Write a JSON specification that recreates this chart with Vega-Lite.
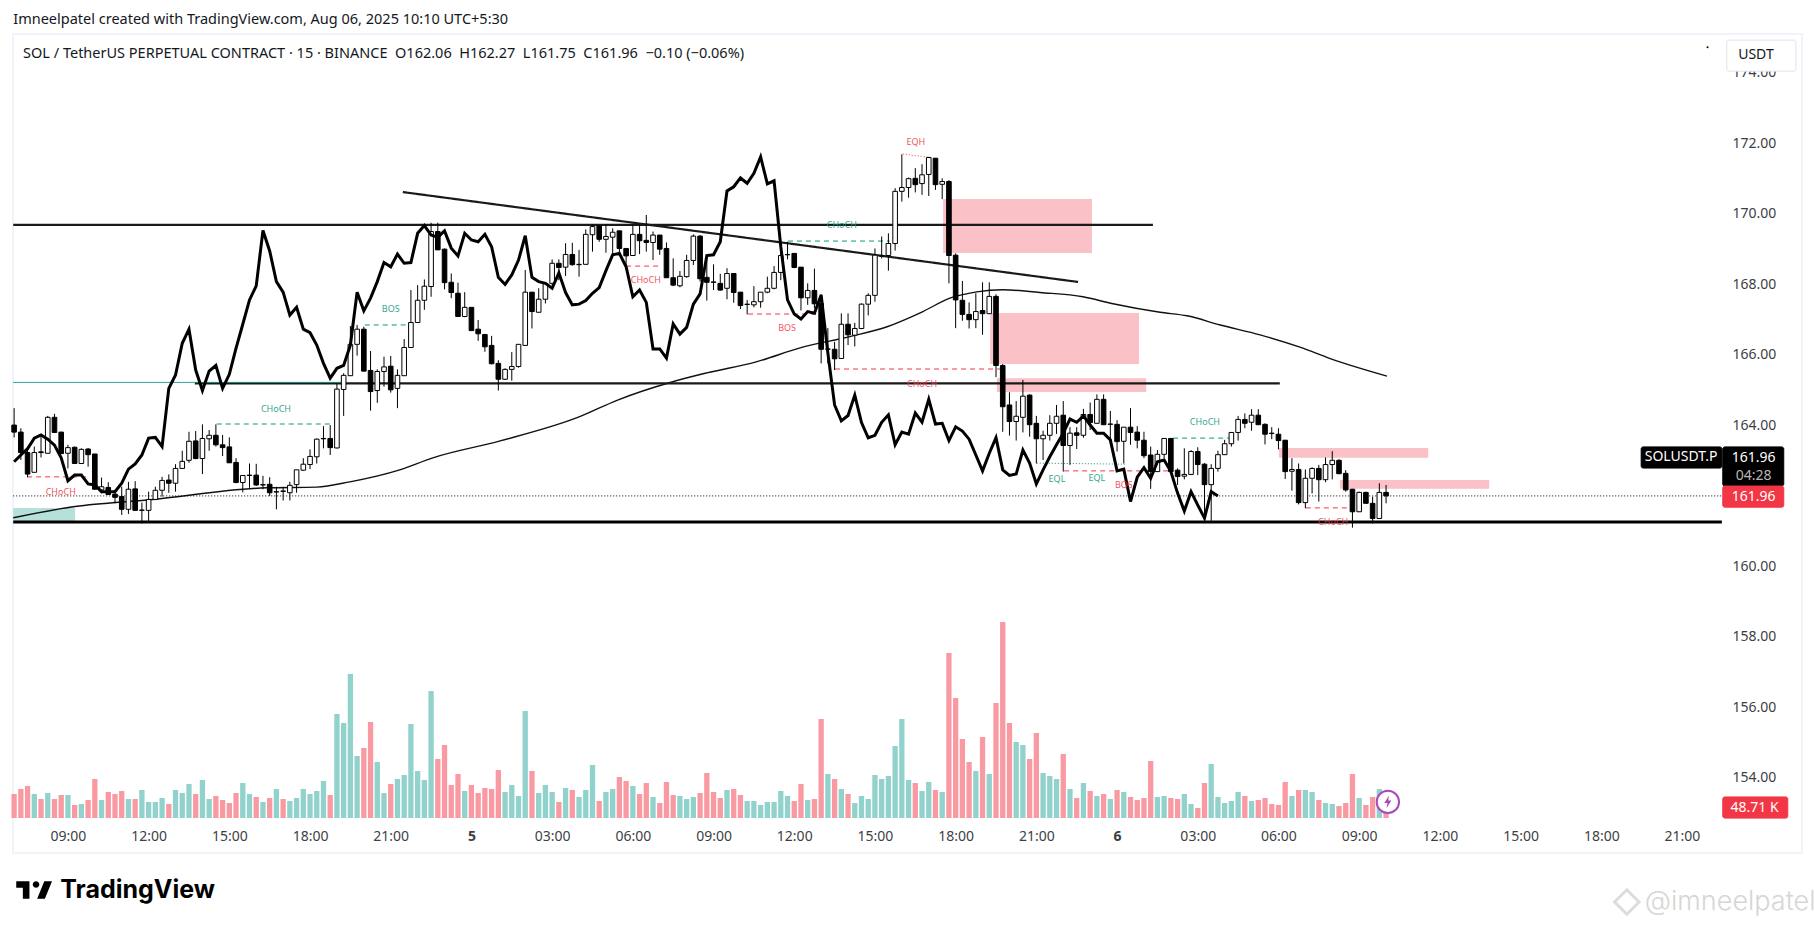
{
"$schema":"https://vega.github.io/schema/vega-lite/v6.json",
"width":1789,"height":819,
"autosize":{"type":"none"},
"padding":{"left":13,"top":34,"right":13,"bottom":75},
"background":"#ffffff",
"view":{"stroke":"#f0f3fa","strokeWidth":2},
"config":{"font":"Noto Sans"},
"datasets":{
"bars":[
{"t":"2025-08-04T07:00Z","o":163.97,"h":164.45,"l":163.62,"c":163.77,"v":116.9,"s":162.93},
{"t":"2025-08-04T07:15Z","o":163.77,"h":163.88,"l":162.98,"c":163.19,"v":141.3,"s":163.12},
{"t":"2025-08-04T07:30Z","o":163.19,"h":163.36,"l":162.49,"c":162.58,"v":155.9,"s":163.30},
{"t":"2025-08-04T07:45Z","o":162.63,"h":163.36,"l":162.63,"c":163.19,"v":116.9,"s":163.60},
{"t":"2025-08-04T08:00Z","o":163.21,"h":163.66,"l":163.05,"c":163.19,"v":92.5,"s":163.69},
{"t":"2025-08-04T08:15Z","o":163.17,"h":164.23,"l":163.17,"c":164.19,"v":121.8,"s":163.57},
{"t":"2025-08-04T08:30Z","o":164.19,"h":164.29,"l":163.76,"c":163.76,"v":92.5,"s":163.40},
{"t":"2025-08-04T08:45Z","o":163.77,"h":163.78,"l":163.15,"c":163.16,"v":112.0,"s":163.04},
{"t":"2025-08-04T09:00Z","o":163.17,"h":163.41,"l":162.74,"c":163.33,"v":112.0,"s":162.39},
{"t":"2025-08-04T09:15Z","o":163.34,"h":163.36,"l":162.87,"c":162.88,"v":63.3,"s":162.55},
{"t":"2025-08-04T09:30Z","o":162.88,"h":163.31,"l":162.87,"c":163.28,"v":68.2,"s":162.55},
{"t":"2025-08-04T09:45Z","o":163.29,"h":163.32,"l":162.79,"c":163.13,"v":87.7,"s":162.30},
{"t":"2025-08-04T10:00Z","o":163.15,"h":163.15,"l":162.15,"c":162.15,"v":190.0,"s":162.27},
{"t":"2025-08-04T10:15Z","o":162.13,"h":162.48,"l":162.03,"c":162.22,"v":87.7,"s":162.08},
{"t":"2025-08-04T10:30Z","o":162.20,"h":162.35,"l":161.99,"c":162.00,"v":126.6,"s":162.08},
{"t":"2025-08-04T10:45Z","o":162.01,"h":162.13,"l":161.75,"c":161.92,"v":116.9,"s":162.08},
{"t":"2025-08-04T11:00Z","o":161.94,"h":162.22,"l":161.42,"c":161.58,"v":131.5,"s":162.32},
{"t":"2025-08-04T11:15Z","o":161.58,"h":162.36,"l":161.45,"c":162.15,"v":92.5,"s":162.72},
{"t":"2025-08-04T11:30Z","o":162.16,"h":162.38,"l":161.54,"c":161.55,"v":92.5,"s":162.87},
{"t":"2025-08-04T11:45Z","o":161.55,"h":161.77,"l":161.18,"c":161.56,"v":136.4,"s":163.12},
{"t":"2025-08-04T12:00Z","o":161.55,"h":162.08,"l":161.23,"c":161.86,"v":77.9,"s":163.60},
{"t":"2025-08-04T12:15Z","o":161.86,"h":162.22,"l":161.84,"c":162.12,"v":77.9,"s":163.62},
{"t":"2025-08-04T12:30Z","o":162.12,"h":162.50,"l":161.94,"c":162.40,"v":97.4,"s":163.36},
{"t":"2025-08-04T12:45Z","o":162.41,"h":162.57,"l":162.05,"c":162.32,"v":68.2,"s":165.01},
{"t":"2025-08-04T13:00Z","o":162.32,"h":162.86,"l":162.08,"c":162.74,"v":136.4,"s":165.39},
{"t":"2025-08-04T13:15Z","o":162.74,"h":163.24,"l":162.74,"c":162.94,"v":121.8,"s":166.29},
{"t":"2025-08-04T13:30Z","o":162.97,"h":163.78,"l":162.90,"c":163.51,"v":165.6,"s":166.69},
{"t":"2025-08-04T13:45Z","o":163.52,"h":163.80,"l":163.00,"c":163.02,"v":116.9,"s":165.53},
{"t":"2025-08-04T14:00Z","o":163.02,"h":163.99,"l":162.58,"c":163.59,"v":185.1,"s":164.95},
{"t":"2025-08-04T14:15Z","o":163.58,"h":163.83,"l":163.24,"c":163.68,"v":92.5,"s":165.50},
{"t":"2025-08-04T14:30Z","o":163.68,"h":163.99,"l":163.36,"c":163.41,"v":107.2,"s":165.66},
{"t":"2025-08-04T14:45Z","o":163.41,"h":163.69,"l":163.09,"c":163.33,"v":87.7,"s":165.01},
{"t":"2025-08-04T15:00Z","o":163.35,"h":163.62,"l":162.90,"c":162.90,"v":73.1,"s":165.41},
{"t":"2025-08-04T15:15Z","o":162.91,"h":163.03,"l":162.32,"c":162.34,"v":121.8,"s":166.15},
{"t":"2025-08-04T15:30Z","o":162.34,"h":162.55,"l":162.06,"c":162.54,"v":170.5,"s":166.83},
{"t":"2025-08-04T15:45Z","o":162.54,"h":162.88,"l":162.19,"c":162.55,"v":116.9,"s":167.52},
{"t":"2025-08-04T16:00Z","o":162.55,"h":162.87,"l":162.24,"c":162.27,"v":102.3,"s":167.92},
{"t":"2025-08-04T16:15Z","o":162.27,"h":162.53,"l":162.15,"c":162.28,"v":77.9,"s":169.49},
{"t":"2025-08-04T16:30Z","o":162.29,"h":162.49,"l":161.96,"c":162.05,"v":97.4,"s":168.91},
{"t":"2025-08-04T16:45Z","o":162.07,"h":162.22,"l":161.58,"c":162.08,"v":141.3,"s":168.04},
{"t":"2025-08-04T17:00Z","o":162.10,"h":162.22,"l":161.83,"c":162.09,"v":92.5,"s":167.74},
{"t":"2025-08-04T17:15Z","o":162.05,"h":162.36,"l":161.83,"c":162.26,"v":82.8,"s":167.09},
{"t":"2025-08-04T17:30Z","o":162.28,"h":162.70,"l":162.05,"c":162.70,"v":97.4,"s":167.31},
{"t":"2025-08-04T17:45Z","o":162.69,"h":163.03,"l":162.68,"c":162.86,"v":141.3,"s":166.69},
{"t":"2025-08-04T18:00Z","o":162.85,"h":163.28,"l":162.72,"c":163.08,"v":116.9,"s":166.59},
{"t":"2025-08-04T18:15Z","o":163.07,"h":163.59,"l":162.88,"c":163.57,"v":131.5,"s":166.24},
{"t":"2025-08-04T18:30Z","o":163.58,"h":163.94,"l":163.31,"c":163.59,"v":180.2,"s":165.72},
{"t":"2025-08-04T18:45Z","o":163.59,"h":163.97,"l":163.12,"c":163.33,"v":112.0,"s":165.30},
{"t":"2025-08-04T19:00Z","o":163.32,"h":165.14,"l":163.31,"c":164.99,"v":506.6,"s":165.58},
{"t":"2025-08-04T19:15Z","o":164.98,"h":165.44,"l":164.23,"c":165.38,"v":462.8,"s":165.66},
{"t":"2025-08-04T19:30Z","o":165.37,"h":166.78,"l":165.37,"c":166.26,"v":701.4,"s":166.24},
{"t":"2025-08-04T19:45Z","o":166.26,"h":166.81,"l":165.94,"c":166.69,"v":302.0,"s":167.74},
{"t":"2025-08-04T20:00Z","o":166.69,"h":166.76,"l":165.49,"c":165.50,"v":341.0,"s":167.21},
{"t":"2025-08-04T20:15Z","o":165.52,"h":166.07,"l":164.38,"c":164.92,"v":467.6,"s":167.57},
{"t":"2025-08-04T20:30Z","o":164.95,"h":165.55,"l":164.60,"c":165.49,"v":272.8,"s":168.04},
{"t":"2025-08-04T20:45Z","o":165.49,"h":165.91,"l":165.06,"c":165.62,"v":121.8,"s":168.58},
{"t":"2025-08-04T21:00Z","o":165.64,"h":165.93,"l":164.89,"c":164.97,"v":165.6,"s":168.46},
{"t":"2025-08-04T21:15Z","o":165.01,"h":165.55,"l":164.45,"c":165.38,"v":190.0,"s":168.82},
{"t":"2025-08-04T21:30Z","o":165.37,"h":166.41,"l":165.37,"c":166.17,"v":209.5,"s":168.56},
{"t":"2025-08-04T21:45Z","o":166.17,"h":167.80,"l":166.17,"c":166.88,"v":457.9,"s":168.58},
{"t":"2025-08-04T22:00Z","o":166.88,"h":167.94,"l":166.88,"c":167.51,"v":228.9,"s":169.41},
{"t":"2025-08-04T22:15Z","o":167.51,"h":168.10,"l":167.24,"c":167.91,"v":185.1,"s":169.63},
{"t":"2025-08-04T22:30Z","o":167.90,"h":169.71,"l":167.61,"c":169.46,"v":618.6,"s":169.36},
{"t":"2025-08-04T22:45Z","o":169.46,"h":169.71,"l":168.94,"c":168.94,"v":287.4,"s":169.30},
{"t":"2025-08-04T23:00Z","o":168.96,"h":168.98,"l":167.82,"c":168.01,"v":355.6,"s":169.48},
{"t":"2025-08-04T23:15Z","o":168.02,"h":168.27,"l":167.57,"c":167.73,"v":160.7,"s":168.99},
{"t":"2025-08-04T23:30Z","o":167.71,"h":168.01,"l":167.05,"c":167.05,"v":214.3,"s":168.77},
{"t":"2025-08-04T23:45Z","o":167.05,"h":167.74,"l":167.03,"c":167.31,"v":131.5,"s":169.41},
{"t":"2025-08-05T00:00Z","o":167.31,"h":167.31,"l":166.65,"c":166.65,"v":160.7,"s":169.22},
{"t":"2025-08-05T00:15Z","o":166.69,"h":166.95,"l":166.36,"c":166.56,"v":121.8,"s":169.17},
{"t":"2025-08-05T00:30Z","o":166.54,"h":166.55,"l":166.05,"c":166.19,"v":146.1,"s":169.38},
{"t":"2025-08-05T00:45Z","o":166.23,"h":166.50,"l":165.69,"c":165.71,"v":141.3,"s":169.03},
{"t":"2025-08-05T01:00Z","o":165.72,"h":165.81,"l":164.95,"c":165.27,"v":233.8,"s":168.16},
{"t":"2025-08-05T01:15Z","o":165.27,"h":165.58,"l":165.25,"c":165.55,"v":126.6,"s":167.96},
{"t":"2025-08-05T01:30Z","o":165.55,"h":166.04,"l":165.23,"c":165.63,"v":160.7,"s":168.23},
{"t":"2025-08-05T01:45Z","o":165.63,"h":166.26,"l":165.60,"c":166.26,"v":107.2,"s":168.65},
{"t":"2025-08-05T02:00Z","o":166.23,"h":168.37,"l":166.23,"c":167.74,"v":521.2,"s":169.34},
{"t":"2025-08-05T02:15Z","o":167.74,"h":167.74,"l":166.71,"c":167.19,"v":228.9,"s":168.16},
{"t":"2025-08-05T02:30Z","o":167.17,"h":167.85,"l":167.17,"c":167.54,"v":121.8,"s":168.04},
{"t":"2025-08-05T02:45Z","o":167.54,"h":167.99,"l":167.42,"c":167.99,"v":160.7,"s":167.99},
{"t":"2025-08-05T03:00Z","o":167.99,"h":168.67,"l":167.94,"c":168.56,"v":126.6,"s":167.85},
{"t":"2025-08-05T03:15Z","o":168.56,"h":168.67,"l":168.08,"c":168.44,"v":77.9,"s":168.29},
{"t":"2025-08-05T03:30Z","o":168.45,"h":169.13,"l":168.20,"c":168.81,"v":146.1,"s":167.73},
{"t":"2025-08-05T03:45Z","o":168.81,"h":169.14,"l":168.49,"c":168.52,"v":136.4,"s":167.38},
{"t":"2025-08-05T04:00Z","o":168.52,"h":168.94,"l":168.18,"c":168.53,"v":102.3,"s":167.40},
{"t":"2025-08-05T04:15Z","o":168.53,"h":169.52,"l":168.53,"c":169.38,"v":136.4,"s":167.50},
{"t":"2025-08-05T04:30Z","o":169.37,"h":169.66,"l":168.89,"c":169.60,"v":258.2,"s":167.71},
{"t":"2025-08-05T04:45Z","o":169.62,"h":169.62,"l":169.17,"c":169.24,"v":82.8,"s":167.87},
{"t":"2025-08-05T05:00Z","o":169.24,"h":169.67,"l":168.86,"c":169.32,"v":126.6,"s":168.35},
{"t":"2025-08-05T05:15Z","o":169.30,"h":169.55,"l":168.82,"c":169.44,"v":141.3,"s":168.80},
{"t":"2025-08-05T05:30Z","o":169.48,"h":169.48,"l":168.80,"c":168.98,"v":199.7,"s":168.84},
{"t":"2025-08-05T05:45Z","o":168.98,"h":168.98,"l":168.51,"c":168.77,"v":180.2,"s":168.46},
{"t":"2025-08-05T06:00Z","o":168.78,"h":169.65,"l":168.78,"c":169.38,"v":155.9,"s":167.61},
{"t":"2025-08-05T06:15Z","o":169.38,"h":169.66,"l":168.82,"c":169.20,"v":116.9,"s":167.80},
{"t":"2025-08-05T06:30Z","o":169.21,"h":169.93,"l":168.89,"c":169.15,"v":170.5,"s":167.45},
{"t":"2025-08-05T06:45Z","o":169.15,"h":169.46,"l":168.65,"c":169.36,"v":102.3,"s":166.13},
{"t":"2025-08-05T07:00Z","o":169.36,"h":169.36,"l":168.80,"c":168.96,"v":73.1,"s":166.13},
{"t":"2025-08-05T07:15Z","o":168.98,"h":169.15,"l":168.15,"c":168.15,"v":175.4,"s":165.87},
{"t":"2025-08-05T07:30Z","o":168.15,"h":168.70,"l":167.91,"c":167.94,"v":112.0,"s":166.84},
{"t":"2025-08-05T07:45Z","o":167.92,"h":168.34,"l":167.88,"c":168.19,"v":107.2,"s":166.55},
{"t":"2025-08-05T08:00Z","o":168.18,"h":168.80,"l":168.15,"c":168.64,"v":92.5,"s":166.74},
{"t":"2025-08-05T08:15Z","o":168.64,"h":169.38,"l":168.51,"c":169.33,"v":102.3,"s":167.40},
{"t":"2025-08-05T08:30Z","o":169.33,"h":169.36,"l":168.04,"c":168.12,"v":121.8,"s":167.69},
{"t":"2025-08-05T08:45Z","o":168.16,"h":168.80,"l":167.50,"c":168.02,"v":219.2,"s":168.78},
{"t":"2025-08-05T09:00Z","o":168.03,"h":168.53,"l":167.80,"c":168.02,"v":126.6,"s":168.80},
{"t":"2025-08-05T09:15Z","o":167.99,"h":168.26,"l":167.78,"c":167.80,"v":97.4,"s":169.17},
{"t":"2025-08-05T09:30Z","o":167.85,"h":168.42,"l":167.54,"c":168.27,"v":136.4,"s":170.61},
{"t":"2025-08-05T09:45Z","o":168.27,"h":168.27,"l":167.44,"c":167.73,"v":141.3,"s":170.73},
{"t":"2025-08-05T10:00Z","o":167.74,"h":167.74,"l":167.26,"c":167.36,"v":112.0,"s":170.98},
{"t":"2025-08-05T10:15Z","o":167.39,"h":167.52,"l":167.11,"c":167.40,"v":82.8,"s":170.83},
{"t":"2025-08-05T10:30Z","o":167.38,"h":167.91,"l":167.31,"c":167.47,"v":82.8,"s":171.11},
{"t":"2025-08-05T10:45Z","o":167.47,"h":167.74,"l":167.30,"c":167.74,"v":63.3,"s":171.58},
{"t":"2025-08-05T11:00Z","o":167.74,"h":168.18,"l":167.71,"c":167.85,"v":77.9,"s":170.81},
{"t":"2025-08-05T11:15Z","o":167.85,"h":168.48,"l":167.82,"c":168.30,"v":77.9,"s":170.90},
{"t":"2025-08-05T11:30Z","o":168.30,"h":169.03,"l":168.08,"c":168.78,"v":131.5,"s":169.03},
{"t":"2025-08-05T11:45Z","o":168.80,"h":169.17,"l":168.67,"c":168.81,"v":107.2,"s":167.52},
{"t":"2025-08-05T12:00Z","o":168.84,"h":168.84,"l":168.42,"c":168.44,"v":82.8,"s":167.12},
{"t":"2025-08-05T12:15Z","o":168.45,"h":168.45,"l":167.22,"c":167.58,"v":165.6,"s":166.98},
{"t":"2025-08-05T12:30Z","o":167.58,"h":167.99,"l":167.38,"c":167.79,"v":87.7,"s":167.19},
{"t":"2025-08-05T12:45Z","o":167.79,"h":168.41,"l":167.28,"c":167.41,"v":92.5,"s":167.14},
{"t":"2025-08-05T13:00Z","o":167.42,"h":167.68,"l":165.72,"c":166.12,"v":482.2,"s":167.66},
{"t":"2025-08-05T13:15Z","o":166.12,"h":166.72,"l":165.72,"c":166.13,"v":214.3,"s":166.01},
{"t":"2025-08-05T13:30Z","o":166.12,"h":166.33,"l":165.53,"c":165.85,"v":190.0,"s":164.54},
{"t":"2025-08-05T13:45Z","o":165.86,"h":167.14,"l":165.86,"c":166.83,"v":141.3,"s":164.09},
{"t":"2025-08-05T14:00Z","o":166.83,"h":167.14,"l":166.24,"c":166.53,"v":116.9,"s":164.24},
{"t":"2025-08-05T14:15Z","o":166.52,"h":166.87,"l":166.20,"c":166.71,"v":73.1,"s":164.82},
{"t":"2025-08-05T14:30Z","o":166.71,"h":167.42,"l":166.69,"c":167.40,"v":107.2,"s":164.04},
{"t":"2025-08-05T14:45Z","o":167.40,"h":167.71,"l":167.08,"c":167.65,"v":92.5,"s":163.61},
{"t":"2025-08-05T15:00Z","o":167.65,"h":168.98,"l":167.47,"c":168.79,"v":209.5,"s":163.68},
{"t":"2025-08-05T15:15Z","o":168.76,"h":169.32,"l":168.70,"c":168.77,"v":190.0,"s":164.05},
{"t":"2025-08-05T15:30Z","o":168.78,"h":169.41,"l":168.35,"c":169.12,"v":204.6,"s":164.26},
{"t":"2025-08-05T15:45Z","o":169.12,"h":170.69,"l":168.92,"c":170.60,"v":350.7,"s":163.41},
{"t":"2025-08-05T16:00Z","o":170.60,"h":171.65,"l":170.31,"c":170.71,"v":482.2,"s":163.77},
{"t":"2025-08-05T16:15Z","o":170.71,"h":170.99,"l":170.42,"c":170.96,"v":185.1,"s":163.71},
{"t":"2025-08-05T16:30Z","o":170.97,"h":171.26,"l":170.57,"c":170.79,"v":170.5,"s":164.31},
{"t":"2025-08-05T16:45Z","o":170.82,"h":171.37,"l":170.50,"c":171.07,"v":131.5,"s":164.05},
{"t":"2025-08-05T17:00Z","o":171.08,"h":171.58,"l":170.47,"c":171.56,"v":175.4,"s":164.70},
{"t":"2025-08-05T17:15Z","o":171.54,"h":171.54,"l":170.64,"c":170.79,"v":136.4,"s":164.00},
{"t":"2025-08-05T17:30Z","o":170.80,"h":170.97,"l":170.38,"c":170.88,"v":126.6,"s":164.02},
{"t":"2025-08-05T17:45Z","o":170.88,"h":170.92,"l":167.99,"c":168.78,"v":803.7,"s":163.53},
{"t":"2025-08-05T18:00Z","o":168.79,"h":168.84,"l":166.72,"c":167.52,"v":584.5,"s":163.92},
{"t":"2025-08-05T18:15Z","o":167.51,"h":168.06,"l":166.93,"c":167.11,"v":384.8,"s":163.80},
{"t":"2025-08-05T18:30Z","o":167.11,"h":167.45,"l":166.71,"c":166.96,"v":272.8,"s":163.57},
{"t":"2025-08-05T18:45Z","o":166.96,"h":167.71,"l":166.72,"c":167.19,"v":228.9,"s":163.12},
{"t":"2025-08-05T19:00Z","o":167.22,"h":168.02,"l":166.53,"c":167.13,"v":394.6,"s":162.67},
{"t":"2025-08-05T19:15Z","o":167.13,"h":168.02,"l":167.13,"c":167.62,"v":214.3,"s":163.17},
{"t":"2025-08-05T19:30Z","o":167.62,"h":167.68,"l":165.33,"c":165.66,"v":560.2,"s":163.61},
{"t":"2025-08-05T19:45Z","o":165.66,"h":165.70,"l":163.78,"c":164.49,"v":954.7,"s":162.70},
{"t":"2025-08-05T20:00Z","o":164.54,"h":164.90,"l":163.67,"c":164.07,"v":462.8,"s":162.54},
{"t":"2025-08-05T20:15Z","o":164.07,"h":164.65,"l":163.53,"c":164.22,"v":370.2,"s":162.58},
{"t":"2025-08-05T20:30Z","o":164.19,"h":165.25,"l":163.76,"c":164.79,"v":355.6,"s":163.26},
{"t":"2025-08-05T20:45Z","o":164.82,"h":164.84,"l":163.64,"c":163.98,"v":287.4,"s":162.89},
{"t":"2025-08-05T21:00Z","o":164.02,"h":164.23,"l":162.88,"c":163.58,"v":414.0,"s":162.30},
{"t":"2025-08-05T21:15Z","o":163.58,"h":163.81,"l":162.98,"c":163.68,"v":219.2,"s":162.70},
{"t":"2025-08-05T21:30Z","o":163.68,"h":164.25,"l":163.53,"c":164.02,"v":204.6,"s":163.07},
{"t":"2025-08-05T21:45Z","o":164.02,"h":164.54,"l":163.72,"c":164.22,"v":190.0,"s":163.41},
{"t":"2025-08-05T22:00Z","o":164.25,"h":164.65,"l":162.65,"c":163.39,"v":311.8,"s":163.74},
{"t":"2025-08-05T22:15Z","o":163.39,"h":163.91,"l":162.84,"c":163.74,"v":141.3,"s":164.14},
{"t":"2025-08-05T22:30Z","o":163.75,"h":163.91,"l":163.29,"c":163.68,"v":97.4,"s":164.05},
{"t":"2025-08-05T22:45Z","o":163.68,"h":164.43,"l":163.61,"c":164.27,"v":170.5,"s":164.23},
{"t":"2025-08-05T23:00Z","o":164.27,"h":164.61,"l":163.83,"c":164.04,"v":131.5,"s":163.97},
{"t":"2025-08-05T23:15Z","o":164.02,"h":164.84,"l":164.02,"c":164.70,"v":107.2,"s":163.74},
{"t":"2025-08-05T23:30Z","o":164.70,"h":164.84,"l":163.98,"c":163.98,"v":116.9,"s":163.74},
{"t":"2025-08-05T23:45Z","o":163.99,"h":164.37,"l":163.50,"c":164.00,"v":92.5,"s":163.55},
{"t":"2025-08-06T00:00Z","o":163.99,"h":164.11,"l":163.22,"c":163.50,"v":136.4,"s":162.67},
{"t":"2025-08-06T00:15Z","o":163.51,"h":163.91,"l":162.88,"c":163.91,"v":126.6,"s":162.72},
{"t":"2025-08-06T00:30Z","o":163.91,"h":164.45,"l":163.41,"c":163.76,"v":102.3,"s":161.80},
{"t":"2025-08-06T00:45Z","o":163.77,"h":163.94,"l":163.31,"c":163.54,"v":87.7,"s":162.49},
{"t":"2025-08-06T01:00Z","o":163.54,"h":163.78,"l":163.03,"c":163.10,"v":97.4,"s":162.76},
{"t":"2025-08-06T01:15Z","o":163.12,"h":163.36,"l":162.16,"c":162.65,"v":277.6,"s":162.46},
{"t":"2025-08-06T01:30Z","o":162.65,"h":163.26,"l":162.65,"c":163.14,"v":102.3,"s":162.93},
{"t":"2025-08-06T01:45Z","o":163.14,"h":163.59,"l":163.03,"c":163.59,"v":107.2,"s":162.98},
{"t":"2025-08-06T02:00Z","o":163.59,"h":163.59,"l":162.65,"c":162.65,"v":97.4,"s":162.65},
{"t":"2025-08-06T02:15Z","o":162.69,"h":162.74,"l":162.27,"c":162.51,"v":92.5,"s":162.04},
{"t":"2025-08-06T02:30Z","o":162.52,"h":163.31,"l":162.43,"c":162.57,"v":116.9,"s":161.53},
{"t":"2025-08-06T02:45Z","o":162.57,"h":163.26,"l":162.55,"c":163.22,"v":68.2,"s":162.08},
{"t":"2025-08-06T03:00Z","o":163.22,"h":163.34,"l":162.55,"c":162.85,"v":48.7,"s":161.70},
{"t":"2025-08-06T03:15Z","o":162.86,"h":162.89,"l":161.32,"c":162.28,"v":170.5,"s":161.33},
{"t":"2025-08-06T03:30Z","o":162.28,"h":162.86,"l":161.25,"c":162.74,"v":263.0,"s":162.08},
{"t":"2025-08-06T03:45Z","o":162.74,"h":163.24,"l":162.65,"c":163.13,"v":102.3,"s":161.96},
{"t":"2025-08-06T04:00Z","o":163.13,"h":163.55,"l":163.12,"c":163.44,"v":73.1},
{"t":"2025-08-06T04:15Z","o":163.44,"h":163.76,"l":163.36,"c":163.76,"v":82.8},
{"t":"2025-08-06T04:30Z","o":163.76,"h":164.23,"l":163.53,"c":164.13,"v":126.6},
{"t":"2025-08-06T04:45Z","o":164.13,"h":164.30,"l":163.88,"c":164.02,"v":107.2},
{"t":"2025-08-06T05:00Z","o":164.05,"h":164.42,"l":163.81,"c":164.25,"v":82.8},
{"t":"2025-08-06T05:15Z","o":164.25,"h":164.42,"l":163.97,"c":163.98,"v":87.7},
{"t":"2025-08-06T05:30Z","o":163.99,"h":164.02,"l":163.42,"c":163.71,"v":97.4},
{"t":"2025-08-06T05:45Z","o":163.74,"h":163.91,"l":163.57,"c":163.73,"v":68.2},
{"t":"2025-08-06T06:00Z","o":163.71,"h":163.88,"l":163.28,"c":163.53,"v":63.3},
{"t":"2025-08-06T06:15Z","o":163.54,"h":163.55,"l":162.44,"c":162.65,"v":175.4},
{"t":"2025-08-06T06:30Z","o":162.66,"h":163.03,"l":162.11,"c":162.71,"v":107.2},
{"t":"2025-08-06T06:45Z","o":162.71,"h":162.88,"l":161.72,"c":161.77,"v":136.4},
{"t":"2025-08-06T07:00Z","o":161.77,"h":162.71,"l":161.61,"c":162.46,"v":136.4},
{"t":"2025-08-06T07:15Z","o":162.46,"h":162.77,"l":162.03,"c":162.74,"v":126.6},
{"t":"2025-08-06T07:30Z","o":162.74,"h":162.84,"l":161.80,"c":162.42,"v":87.7},
{"t":"2025-08-06T07:45Z","o":162.42,"h":163.05,"l":162.35,"c":162.85,"v":73.1},
{"t":"2025-08-06T08:00Z","o":162.85,"h":163.23,"l":162.43,"c":162.97,"v":68.2},
{"t":"2025-08-06T08:15Z","o":162.97,"h":163.00,"l":162.58,"c":162.59,"v":58.5},
{"t":"2025-08-06T08:30Z","o":162.60,"h":162.69,"l":162.08,"c":162.13,"v":73.1},
{"t":"2025-08-06T08:45Z","o":162.15,"h":162.16,"l":161.06,"c":161.51,"v":214.3},
{"t":"2025-08-06T09:00Z","o":161.51,"h":162.08,"l":161.51,"c":162.06,"v":97.4},
{"t":"2025-08-06T09:15Z","o":162.06,"h":162.08,"l":161.75,"c":161.75,"v":63.3},
{"t":"2025-08-06T09:30Z","o":161.75,"h":161.94,"l":161.18,"c":161.32,"v":102.3},
{"t":"2025-08-06T09:45Z","o":161.32,"h":162.32,"l":161.32,"c":162.06,"v":141.3},
{"t":"2025-08-06T10:00Z","o":162.06,"h":162.27,"l":161.75,"c":161.96,"v":48.71}
],
"ma":[
{"t":"2025-08-04T06:58Z","p":161.34},{"t":"2025-08-04T09:16Z","p":161.66},{"t":"2025-08-04T12:03Z","p":161.85},{"t":"2025-08-04T16:24Z","p":162.19},{"t":"2025-08-04T18:15Z","p":162.21},{"t":"2025-08-04T19:29Z","p":162.36},{"t":"2025-08-04T21:20Z","p":162.70},{"t":"2025-08-04T22:34Z","p":163.04},{"t":"2025-08-05T01:04Z","p":163.52},{"t":"2025-08-05T04:00Z","p":164.20},{"t":"2025-08-05T05:26Z","p":164.68},{"t":"2025-08-05T07:29Z","p":165.20},{"t":"2025-08-05T08:45Z","p":165.45},{"t":"2025-08-05T10:37Z","p":165.77},{"t":"2025-08-05T12:13Z","p":166.16},{"t":"2025-08-05T14:04Z","p":166.48},{"t":"2025-08-05T15:27Z","p":166.76},{"t":"2025-08-05T16:47Z","p":167.19},{"t":"2025-08-05T17:47Z","p":167.57},{"t":"2025-08-05T18:47Z","p":167.75},{"t":"2025-08-05T19:45Z","p":167.81},{"t":"2025-08-05T21:08Z","p":167.73},{"t":"2025-08-05T22:44Z","p":167.61},{"t":"2025-08-05T23:51Z","p":167.41},{"t":"2025-08-06T01:36Z","p":167.17},{"t":"2025-08-06T02:36Z","p":167.07},{"t":"2025-08-06T03:50Z","p":166.81},{"t":"2025-08-06T05:19Z","p":166.53},{"t":"2025-08-06T06:48Z","p":166.18},{"t":"2025-08-06T07:57Z","p":165.85},{"t":"2025-08-06T10:02Z","p":165.36}
],
"zones":[
{"t":"2025-08-05T17:32Z","t2":"2025-08-05T23:04Z","p":170.38,"p2":168.85,"k":"supply"},
{"t":"2025-08-05T19:17Z","t2":"2025-08-06T00:49Z","p":167.15,"p2":165.70,"k":"supply"},
{"t":"2025-08-05T19:32Z","t2":"2025-08-06T01:05Z","p":165.30,"p2":164.91,"k":"supply"},
{"t":"2025-08-06T06:01Z","t2":"2025-08-06T11:34Z","p":163.32,"p2":163.04,"k":"supply"},
{"t":"2025-08-06T08:17Z","t2":"2025-08-06T13:50Z","p":162.41,"p2":162.16,"k":"supply"},
{"t":"2025-08-04T06:58Z","t2":"2025-08-04T09:16Z","p":161.62,"p2":161.24,"k":"demand"}
],
"segments":[
{"t":"2025-08-04T06:58Z","t2":"2025-08-06T01:20Z","p":169.65,"p2":169.65,"k":"level"},
{"t":"2025-08-04T13:43Z","t2":"2025-08-06T06:03Z","p":165.15,"p2":165.15,"k":"level"},
{"t":"2025-08-04T21:27Z","t2":"2025-08-05T22:33Z","p":170.58,"p2":168.03,"k":"level"},
{"t":"2025-08-04T06:58Z","t2":"2025-08-06T22:29Z","p":161.22,"p2":161.22,"k":"base"},
{"t":"2025-08-04T06:58Z","t2":"2025-08-04T19:13Z","p":165.18,"p2":165.18,"k":"teal"},
{"t":"2025-08-04T06:58Z","t2":"2025-08-06T22:29Z","p":161.96,"p2":161.96,"k":"last"},
{"t":"2025-08-04T07:29Z","t2":"2025-08-04T09:45Z","p":162.50,"p2":162.50,"k":"reddash"},
{"t":"2025-08-04T14:32Z","t2":"2025-08-04T18:51Z","p":164.00,"p2":164.00,"k":"tealdash"},
{"t":"2025-08-04T20:02Z","t2":"2025-08-04T21:42Z","p":166.81,"p2":166.81,"k":"tealdash"},
{"t":"2025-08-05T05:45Z","t2":"2025-08-05T07:05Z","p":168.48,"p2":168.48,"k":"reddash"},
{"t":"2025-08-05T11:46Z","t2":"2025-08-05T15:33Z","p":169.19,"p2":169.19,"k":"tealdash"},
{"t":"2025-08-05T10:17Z","t2":"2025-08-05T12:57Z","p":167.12,"p2":167.12,"k":"reddash"},
{"t":"2025-08-05T13:31Z","t2":"2025-08-05T19:39Z","p":165.56,"p2":165.56,"k":"reddash"},
{"t":"2025-08-06T02:05Z","t2":"2025-08-06T04:12Z","p":163.60,"p2":163.60,"k":"tealdash"},
{"t":"2025-08-05T22:02Z","t2":"2025-08-06T02:05Z","p":162.67,"p2":162.67,"k":"reddash"},
{"t":"2025-08-06T07:01Z","t2":"2025-08-06T08:44Z","p":161.62,"p2":161.62,"k":"reddash"},
{"t":"2025-08-05T21:01Z","t2":"2025-08-06T00:20Z","p":162.89,"p2":162.86,"k":"tealdot"},
{"t":"2025-08-05T16:02Z","t2":"2025-08-05T16:58Z","p":171.66,"p2":171.57,"k":"reddot"}
],
"notes":[
{"t":"2025-08-04T08:44Z","p":162.07,"text":"CHoCH","k":"red"},
{"t":"2025-08-04T16:44Z","p":164.43,"text":"CHoCH","k":"teal"},
{"t":"2025-08-04T21:00Z","p":167.26,"text":"BOS","k":"teal"},
{"t":"2025-08-05T06:29Z","p":168.09,"text":"CHoCH","k":"red"},
{"t":"2025-08-05T11:44Z","p":166.72,"text":"BOS","k":"red"},
{"t":"2025-08-05T13:46Z","p":169.65,"text":"CHoCH","k":"teal"},
{"t":"2025-08-05T16:31Z","p":172.0,"text":"EQH","k":"red"},
{"t":"2025-08-05T16:45Z","p":165.13,"text":"CHoCH","k":"red"},
{"t":"2025-08-06T03:16Z","p":164.06,"text":"CHoCH","k":"teal"},
{"t":"2025-08-05T21:46Z","p":162.44,"text":"EQL","k":"teal"},
{"t":"2025-08-05T23:15Z","p":162.47,"text":"EQL","k":"teal"},
{"t":"2025-08-06T00:15Z","p":162.27,"text":"BOS","k":"red"},
{"t":"2025-08-06T08:02Z","p":161.22,"text":"CHoCH","k":"red"}
],
"boxes":[
{"t":"2025-08-06T19:29Z","t2":"2025-08-06T22:29Z","p":163.35,"p2":162.75,"k":"black"},
{"t":"2025-08-06T22:31Z","t2":"2025-08-07T00:47Z","p":163.35,"p2":162.24,"k":"black"},
{"t":"2025-08-06T22:31Z","t2":"2025-08-07T00:47Z","p":162.24,"p2":161.64,"k":"red"},
{"t":"2025-08-06T22:31Z","t2":"2025-08-07T00:56Z","p":153.42,"p2":152.82,"k":"red"},
{"t":"2025-08-06T22:40Z","t2":"2025-08-07T01:14Z","p":174.89,"p2":174.01,"k":"plain"}
],
"tags":[
{"t":"2025-08-06T20:58Z","p":163.05,"text":"SOLUSDT.P","k":"white"},
{"t":"2025-08-06T23:40Z","p":163.04,"text":"161.96","k":"white"},
{"t":"2025-08-06T23:40Z","p":162.53,"text":"04:28","k":"grey"},
{"t":"2025-08-06T23:40Z","p":161.93,"text":"161.96","k":"white"},
{"t":"2025-08-06T23:42Z","p":153.11,"text":"48.71 K","k":"white"},
{"t":"2025-08-06T23:45Z","p":174.47,"text":"USDT","k":"dark"}
],
"heads":[
{"t":"2025-08-04T06:58Z","p":175.45,"text":"Imneelpatel created with TradingView.com, Aug 06, 2025 10:10 UTC+5:30"},
{"t":"2025-08-04T07:20Z","p":174.49,"text":"SOL / TetherUS PERPETUAL CONTRACT · 15 · BINANCE\u00a0\u00a0O162.06\u00a0\u00a0H162.27\u00a0\u00a0L161.75\u00a0\u00a0C161.96\u00a0\u00a0−0.10 (−0.06%)"}
],
"spots":[{"t":"2025-08-06T10:04Z","p":153.28}],
"brand":[{"t":"2025-08-04T07:44Z","p":150.78}],
"wordmark":[{"t":"2025-08-04T08:43Z","p":150.78,"text":"TradingView"}],
"handle":[{"t":"2025-08-06T19:37Z","p":150.44,"text":"@imneelpatel"}],
"badge":[{"t":"2025-08-06T18:57Z","p":150.44}],
"speck":[{"t":"2025-08-06T21:57Z","p":174.69}]
},
"encoding":{
"x":{"field":"t","type":"temporal","title":null,
"scale":{"type":"utc","domain":[1754290650000,1754530062000],"padding":0},
"axis":{"orient":"bottom","offset":-17,"domain":false,"ticks":false,"grid":false,"labelPadding":0,"labelBaseline":"middle","labelFontSize":14,"labelColor":"#3c3f45","labelFont":"Noto Sans","labelOverlap":false,"labelBound":false,"labelFlush":false,
"values":[1754298000000,1754308800000,1754319600000,1754330400000,1754341200000,1754352000000,1754362800000,1754373600000,1754384400000,1754395200000,1754406000000,1754416800000,1754427600000,1754438400000,1754449200000,1754460000000,1754470800000,1754481600000,1754492400000,1754503200000,1754514000000],
"labelExpr":"utchours(datum.value)===0 ? utcFormat(datum.value,'%-d') : utcFormat(datum.value,'%H:%M')",
"labelFontWeight":{"condition":{"test":"utchours(datum.value)===0","value":"bold"},"value":"normal"}}}
},
"layer":[
{"data":{"name":"bars"},
"mark":{"type":"bar","width":5.3},
"encoding":{
"y":{"field":"v","type":"quantitative","stack":null,"title":null,"axis":null,"scale":{"domain":[-170.5,3818.9]}},
"y2":{"datum":0},
"color":{"condition":{"test":"datum.c>=datum.o","value":"#92d2cc"},"value":"#f99aa3"}}},
{"data":{"name":"speck"},
"mark":{"type":"point","shape":"circle","size":4,"filled":true,"color":"#000000","opacity":1},
"encoding":{"y":{"field":"p","type":"quantitative","title":null,
"scale":{"domain":[151.83,175.064]},
"axis":{"orient":"right","offset":-70,"values":[154,156,158,160,162,164,166,168,170,172,174],"format":".2f","domain":false,"ticks":false,"grid":false,"labelPadding":0,"labelOffset":1,"labelAlign":"left","labelFontSize":14,"labelColor":"#3c3f45","labelFont":"Noto Sans","labelOverlap":false,"labelBound":false,"labelFlush":false}}}},
{"encoding":{"y":{"field":"p","type":"quantitative","title":null,"axis":null,"scale":{"domain":[151.83,175.064]}}},
"resolve":{"scale":{"color":"independent","fill":"independent","stroke":"independent"}},
"layer":[
{"data":{"name":"zones","format":{"parse":{"t2":"date"}}},
"mark":{"type":"rect"},
"encoding":{"x2":{"field":"t2"},"y2":{"field":"p2"},
"color":{"field":"k","type":"nominal","legend":null,"scale":{"domain":["supply","demand"],"range":["#fac1c7","#b6e0da"]}}}},
{"data":{"name":"ma"},
"mark":{"type":"line","interpolate":"monotone","color":"#111111","strokeWidth":1.4},
"encoding":{}},
{"data":{"name":"segments","format":{"parse":{"t2":"date"}}},
"mark":{"type":"rule"},
"encoding":{"x2":{"field":"t2"},"y2":{"field":"p2"},
"color":{"field":"k","type":"nominal","legend":null,"scale":{"domain":["level","base","teal","last","reddash","tealdash","reddot","tealdot"],"range":["#1a1a1a","#000000","#089981","#000000","#f23645","#089981","#f23645","#089981"]}},
"strokeWidth":{"field":"k","type":"nominal","legend":null,"scale":{"type":"ordinal","domain":["level","base","teal","last","reddash","tealdash","reddot","tealdot"],"range":[2.2,3,1,1,1,1,1,1]}},
"strokeDash":{"field":"k","type":"nominal","legend":null,"scale":{"domain":["level","base","teal","last","reddash","tealdash","reddot","tealdot"],"range":[[1,0],[1,0],[1,0],[1,2],[5,4],[5,4],[1,2],[1,2]]}}}},
{"data":{"name":"bars"},
"mark":{"type":"rule","color":"#000000","strokeWidth":1},
"encoding":{"y":{"field":"l","type":"quantitative","axis":null,"title":null},"y2":{"field":"h"}}},
{"data":{"name":"bars"},
"mark":{"type":"bar","width":4.6,"stroke":"#000000","strokeWidth":1},
"encoding":{"y":{"field":"o","type":"quantitative","axis":null,"title":null},"y2":{"field":"c"},
"fill":{"condition":{"test":"datum.c>=datum.o","value":"#ffffff"},"value":"#000000"}}},
{"data":{"name":"bars"},
"mark":{"type":"line","color":"#000000","strokeWidth":3,"strokeJoin":"miter"},
"encoding":{"y":{"field":"s","type":"quantitative","axis":null,"title":null}}},
{"data":{"name":"notes"},
"mark":{"type":"text","fontSize":9,"font":"Noto Sans","align":"center","baseline":"middle","opacity":0.85},
"encoding":{"text":{"field":"text"},
"color":{"field":"k","type":"nominal","legend":null,"scale":{"domain":["red","teal"],"range":["#f23645","#089981"]}}}},
{"data":{"name":"boxes","format":{"parse":{"t2":"date"}}},
"mark":{"type":"rect","cornerRadius":2},
"encoding":{"x2":{"field":"t2"},"y2":{"field":"p2"},
"fill":{"field":"k","type":"nominal","legend":null,"scale":{"domain":["black","red","plain"],"range":["#000000","#f23645","#ffffff"]}},
"stroke":{"field":"k","type":"nominal","legend":null,"scale":{"domain":["black","red","plain"],"range":["#000000","#f23645","#e0e3eb"]}}}},
{"data":{"name":"tags"},
"mark":{"type":"text","fontSize":14,"font":"Noto Sans","align":"center","baseline":"middle"},
"encoding":{"text":{"field":"text"},
"color":{"field":"k","type":"nominal","legend":null,"scale":{"domain":["white","grey","dark"],"range":["#ffffff","#b8b8b8","#131722"]}}}},
{"data":{"name":"heads"},
"mark":{"type":"text","fontSize":14.5,"font":"Noto Sans","align":"left","baseline":"middle","color":"#131722"},
"encoding":{"text":{"field":"text"}}},
{"data":{"name":"spots"},
"mark":{"type":"point","shape":"circle","size":500,"filled":true,"fill":"#ffffff","stroke":"#ab47bc","strokeWidth":2,"opacity":1},
"encoding":{}},
{"data":{"name":"spots"},
"mark":{"type":"point","shape":"M0.15 -0.9L-0.5 0.15L-0.05 0.15L-0.2 0.9L0.5 -0.2L0.05 -0.2Z","size":196,"filled":true,"color":"#ab47bc","opacity":1},
"encoding":{}},
{"data":{"name":"brand"},
"mark":{"type":"point","shape":"M-0.222 -0.444H-0.889V-0.111H-0.556V0.444H-0.222ZM0.556 0.444H0.167L0.528 -0.444H0.917ZM0.278 -0.278A0.167 0.167 0 1 1 -0.056 -0.278A0.167 0.167 0 1 1 0.278 -0.278Z","size":1568,"filled":true,"color":"#000000","opacity":1},
"encoding":{}},
{"data":{"name":"wordmark"},
"mark":{"type":"text","fontSize":25,"font":"Inter","fontWeight":"bold","align":"left","baseline":"middle","color":"#000000"},
"encoding":{"text":{"field":"text"}}},
{"data":{"name":"handle"},
"mark":{"type":"text","fontSize":27,"font":"Inter","fontWeight":300,"align":"left","baseline":"middle","color":"#d6d6d6"},
"encoding":{"text":{"field":"text"}}},
{"data":{"name":"badge"},
"mark":{"type":"point","shape":"diamond","size":600,"filled":false,"stroke":"#dcdcdc","strokeWidth":3,"opacity":1},
"encoding":{}}
]}
],
"resolve":{"scale":{"y":"independent"},"axis":{"y":"independent"}}
}
